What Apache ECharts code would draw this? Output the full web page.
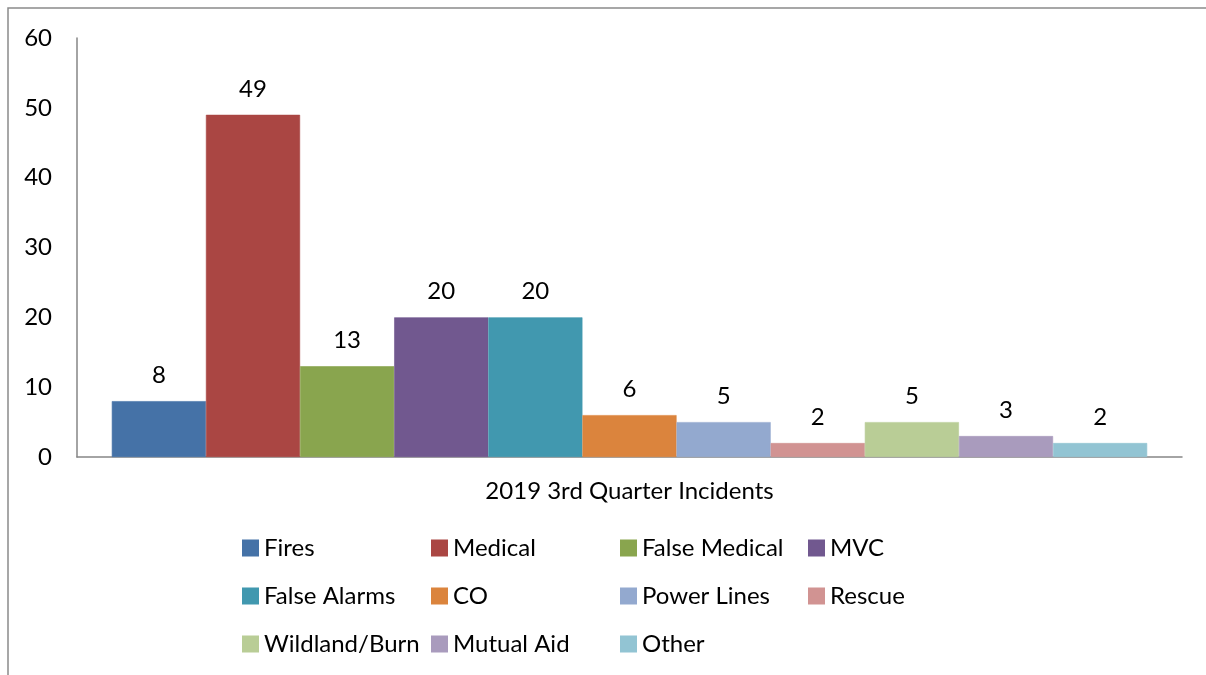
<!DOCTYPE html>
<html>
<head>
<meta charset="utf-8">
<title>2019 3rd Quarter Incidents</title>
<script src="https://cdn.jsdelivr.net/npm/echarts@6/dist/echarts.min.js"></script>
<style>
  html, body { margin: 0; padding: 0; background: #fff; }
  #chartDiv { width: 1206px; height: 675px; }
</style>
</head>
<body>
<div id="chartDiv"></div>
<script>
// data
var categories = ['2019 3rd Quarter Incidents'];
var seriesNames = ['Fires', 'Medical', 'False Medical', 'MVC', 'False Alarms', 'CO',
                   'Power Lines', 'Rescue', 'Wildland/Burn', 'Mutual Aid', 'Other'];
var seriesValues = [8, 49, 13, 20, 20, 6, 5, 2, 5, 3, 2];
var yTicks = [0, 10, 20, 30, 40, 50, 60];

var colors = ['#4572A7', '#AA4643', '#89A54E', '#71588F', '#4198AF', '#DB843D',
              '#93A9CF', '#D19392', '#B9CD96', '#A99BBD', '#92C4D3'];
var fontName = 'Lato';
var fontSize = 24;

var dom = document.getElementById('chartDiv');
var myChart = echarts.init(dom);

// legend columns (excel style grid, filled row by row)
var legendLefts = [242, 431, 620, 808];
var legends = [];
for (var c = 0; c < 4; c++) {
    var names = [];
    for (var k = c; k < seriesNames.length; k += 4) {
        names.push(seriesNames[k]);
    }
    legends.push({
        orient: 'vertical',
        left: legendLefts[c],
        top: 535,
        padding: 0,
        itemWidth: 15,
        itemHeight: 15,
        itemGap: 22,
        icon: 'rect',
        selectedMode: false,
        data: names,
        textStyle: { fontFamily: fontName, fontSize: fontSize, color: '#000', lineHeight: 26, padding: [0, 0, 0, 1] }
    });
}

var series = [];
for (var i = 0; i < seriesNames.length; i++) {
    series.push({
        name: seriesNames[i],
        type: 'bar',
        barGap: '0%',
        barCategoryGap: '6.3%',
        itemStyle: { color: colors[i], borderColor: colors[i], borderWidth: 0.6 },
        label: {
            show: true,
            position: 'top',
            distance: 14,
            fontFamily: fontName,
            fontSize: fontSize,
            color: '#000'
        },
        data: [seriesValues[i]]
    });
}

var option = {
    animation: false,
    backgroundColor: '#fff',
    color: colors,
    graphic: [{
        type: 'rect',
        shape: { x: 8, y: 8, width: 1220, height: 700 },
        style: { fill: 'none', stroke: '#8a8a8a', lineWidth: 1.5 }
    }],
    legend: legends,
    grid: {
        left: 77,
        right: 24,
        top: 38,
        bottom: 218,
        containLabel: false
    },
    xAxis: {
        type: 'category',
        data: categories,
        axisLine: { lineStyle: { color: '#868686', width: 1.5 } },
        axisTick: { show: false },
        axisLabel: { fontFamily: fontName, fontSize: fontSize, color: '#000', margin: 22 }
    },
    yAxis: {
        type: 'value',
        min: yTicks[0],
        max: yTicks[yTicks.length - 1],
        interval: yTicks[1] - yTicks[0],
        splitLine: { show: false },
        axisLine: { show: true, lineStyle: { color: '#868686', width: 1.5 } },
        axisTick: { show: false },
        axisLabel: { fontFamily: fontName, fontSize: fontSize, color: '#000', margin: 25 }
    },
    series: series
};

myChart.setOption(option);
</script>
</body>
</html>
